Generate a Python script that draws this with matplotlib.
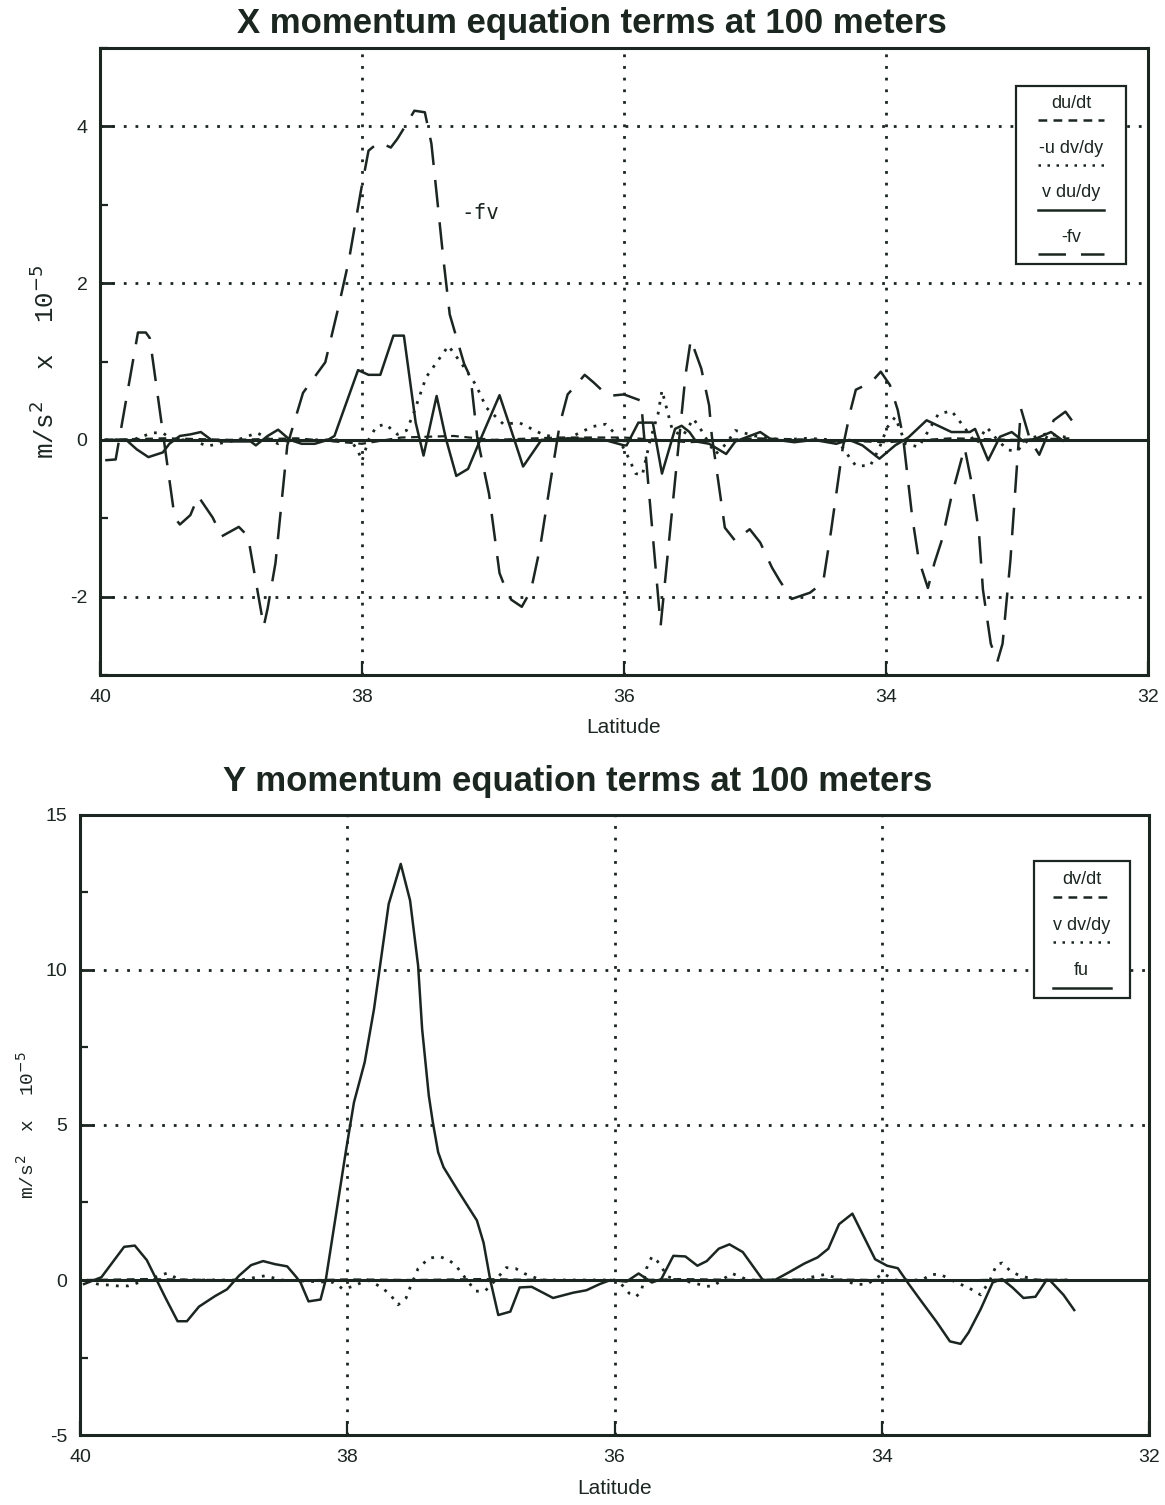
import matplotlib
matplotlib.use("Agg")
import matplotlib.pyplot as plt
from matplotlib.patches import Rectangle
from matplotlib.ticker import MultipleLocator

plt.rcParams["axes.unicode_minus"] = False
plt.rcParams["font.family"] = ["Liberation Sans", "DejaVu Sans"]

INK = "#1c2621"

# ---------------- X momentum terms (units of 1e-5 m/s^2) ----------------
fv_lat = [39.96, 39.88, 39.71, 39.65, 39.62, 39.43, 39.39, 39.31, 39.25, 39.14,
          39.07, 38.94, 38.87, 38.75, 38.72, 38.66, 38.57, 38.45, 38.28, 38.18,
          38.10, 38.01, 37.95, 37.87, 37.78, 37.73, 37.66, 37.60, 37.52, 37.47,
          37.43, 37.38, 37.33, 37.22, 37.17, 37.12, 37.03, 36.95, 36.91, 36.86,
          36.78, 36.71, 36.64, 36.56, 36.49, 36.43, 36.36, 36.30, 36.23, 36.16,
          36.12, 36.00, 35.87, 35.72, 35.53, 35.49, 35.41, 35.35, 35.33, 35.28,
          35.23, 35.15, 35.11, 35.04, 34.96, 34.87, 34.81, 34.72, 34.58, 34.48,
          34.42, 34.33, 34.27, 34.23, 34.18, 34.11, 34.04, 33.97, 33.91, 33.87,
          33.80, 33.75, 33.68, 33.63, 33.57, 33.50, 33.40, 33.34, 33.29, 33.26,
          33.20, 33.15, 33.11, 33.05, 32.97, 32.90, 32.83, 32.72, 32.63, 32.56]
fv_val = [-0.26, -0.25, 1.37, 1.37, 1.30, -0.99, -1.08, -0.96, -0.72, -0.99,
          -1.23, -1.11, -1.23, -2.38, -2.15, -1.57, -0.07, 0.60, 0.99, 1.69,
          2.29, 3.16, 3.69, 3.80, 3.73, 3.84, 4.03, 4.20, 4.18, 3.78,
          3.14, 2.33, 1.60, 0.97, 0.79, 0.03, -0.69, -1.70, -1.87, -2.04,
          -2.13, -1.92, -1.37, -0.52, 0.20, 0.58, 0.71, 0.83, 0.73, 0.62,
          0.56, 0.58, 0.50, -2.37, 0.83, 1.28, 0.91, 0.44, 0.06, -0.53,
          -1.12, -1.29, -1.23, -1.14, -1.31, -1.63, -1.80, -2.03, -1.95, -1.82,
          -1.17, -0.10, 0.38, 0.64, 0.68, 0.74, 0.87, 0.70, 0.38, 0.04,
          -0.98, -1.53, -1.89, -1.57, -1.26, -0.72, -0.10, -0.60, -1.19, -1.91,
          -2.60, -2.83, -2.60, -1.53, 0.40, 0.00, -0.19, 0.25, 0.36, 0.20]

vdudy_lat = [39.96, 39.80, 39.72, 39.63, 39.52, 39.47, 39.39, 39.31, 39.23, 39.15,
             39.07, 38.85, 38.81, 38.72, 38.64, 38.55, 38.46, 38.36, 38.26, 38.21,
             38.03, 37.95, 37.86, 37.76, 37.68, 37.59, 37.53, 37.43, 37.36, 37.28,
             37.19, 37.11, 36.95, 36.86, 36.77, 36.63, 36.40, 36.15, 36.00, 35.98,
             35.89, 35.78, 35.71, 35.61, 35.56, 35.50, 35.45, 35.35, 35.22, 35.15,
             34.96, 34.88, 34.70, 34.55, 34.38, 34.28, 34.18, 34.05, 33.93, 33.83,
             33.69, 33.50, 33.36, 33.32, 33.22, 33.13, 33.04, 32.95, 32.85, 32.74,
             32.65]
vdudy_val = [0.00, 0.00, -0.12, -0.22, -0.16, -0.05, 0.05, 0.07, 0.10, 0.00,
             -0.02, -0.02, -0.07, 0.05, 0.13, 0.00, -0.05, -0.05, 0.00, 0.05,
             0.89, 0.83, 0.83, 1.33, 1.33, 0.22, -0.20, 0.56, 0.02, -0.46,
             -0.37, -0.05, 0.57, 0.12, -0.34, 0.00, 0.02, 0.00, -0.07, -0.07,
             0.22, 0.22, -0.43, 0.14, 0.18, 0.10, -0.02, -0.05, -0.18, -0.02,
             0.10, 0.01, -0.03, 0.00, -0.05, 0.00, -0.07, -0.24, -0.07, 0.03,
             0.25, 0.10, 0.10, 0.14, -0.26, 0.04, 0.10, -0.02, 0.02, 0.10,
             -0.01]

udvdy_lat = [39.96, 39.75, 39.60, 39.52, 39.45, 39.30, 39.18, 39.10, 38.95, 38.80,
             38.70, 38.64, 38.55, 38.20, 38.08, 38.03, 38.00, 37.95, 37.89, 37.82,
             37.73, 37.66, 37.61, 37.51, 37.34, 37.23, 37.13, 37.05, 36.92, 36.80,
             36.62, 36.45, 36.24, 36.14, 36.08, 35.99, 35.91, 35.86, 35.80, 35.74,
             35.71, 35.63, 35.55, 35.47, 35.40, 35.35, 35.30, 35.22, 35.15, 35.00,
             34.80, 34.60, 34.40, 34.33, 34.28, 34.23, 34.12, 34.05, 33.99, 33.93,
             33.85, 33.75, 33.60, 33.50, 33.42, 33.31, 33.23, 33.15, 33.07, 33.00,
             32.90, 32.77, 32.68, 32.58]
udvdy_val = [0.00, 0.00, 0.09, 0.09, 0.00, 0.00, -0.08, -0.05, 0.00, 0.09,
             0.00, -0.05, 0.00, 0.00, -0.02, -0.14, -0.27, 0.00, 0.17, 0.20,
             0.07, 0.12, 0.32, 0.80, 1.20, 0.95, 0.70, 0.41, 0.20, 0.22,
             0.07, 0.00, 0.17, 0.20, 0.10, -0.14, -0.43, -0.45, 0.00, 0.33,
             0.63, 0.12, 0.05, 0.27, 0.10, -0.05, -0.18, -0.05, 0.12, 0.05,
             0.00, 0.02, 0.00, -0.10, -0.22, -0.33, -0.33, -0.10, 0.16, 0.29,
             -0.05, -0.09, 0.33, 0.37, 0.20, -0.05, 0.16, 0.00, -0.13, -0.14,
             0.02, 0.08, 0.05, 0.02]

dudt_lat = [39.96, 39.50, 39.00, 38.50, 38.00, 37.70, 37.30, 37.00, 36.50, 36.00,
            35.50, 35.00, 34.50, 34.00, 33.50, 33.00, 32.60]
dudt_val = [0.00, 0.02, 0.00, 0.02, -0.05, 0.03, 0.05, 0.00, 0.03, 0.03,
            -0.03, 0.02, 0.00, -0.03, 0.02, 0.00, 0.02]

# ---------------- Y momentum terms ----------------
fu_lat = [39.97, 39.84, 39.67, 39.59, 39.50, 39.43, 39.36, 39.27, 39.20, 39.11,
          38.99, 38.90, 38.81, 38.72, 38.63, 38.54, 38.45, 38.39, 38.35, 38.29,
          38.20, 38.16, 38.01, 37.95, 37.87, 37.80, 37.69, 37.60, 37.53, 37.47,
          37.44, 37.39, 37.36, 37.32, 37.28, 37.17, 37.03, 36.98, 36.93, 36.87,
          36.78, 36.71, 36.62, 36.46, 36.31, 36.21, 36.11, 36.03, 35.91, 35.82,
          35.72, 35.65, 35.56, 35.47, 35.38, 35.31, 35.22, 35.14, 35.04, 34.89,
          34.80, 34.69, 34.58, 34.48, 34.40, 34.32, 34.22, 34.13, 34.05, 33.96,
          33.88, 33.80, 33.70, 33.59, 33.49, 33.41, 33.35, 33.26, 33.17, 33.10,
          33.02, 32.94, 32.85, 32.77, 32.74, 32.64, 32.56]
fu_val = [-0.13, 0.09, 1.07, 1.11, 0.64, 0.03, -0.58, -1.33, -1.33, -0.86,
          -0.52, -0.30, 0.14, 0.48, 0.61, 0.51, 0.44, 0.14, -0.08, -0.69,
          -0.63, 0.03, 4.17, 5.73, 7.02, 8.74, 12.13, 13.42, 12.24, 10.14,
          8.10, 5.95, 5.09, 4.12, 3.64, 2.87, 1.92, 1.20, 0.00, -1.13,
          -1.02, -0.24, -0.22, -0.58, -0.41, -0.33, -0.13, 0.00, -0.05, 0.21,
          -0.08, 0.03, 0.78, 0.76, 0.46, 0.61, 1.01, 1.15, 0.90, 0.00,
          0.00, 0.26, 0.53, 0.73, 1.01, 1.80, 2.14, 1.36, 0.67, 0.46,
          0.38, -0.12, -0.71, -1.35, -1.98, -2.06, -1.69, -0.94, -0.08, 0.03,
          -0.25, -0.58, -0.54, -0.02, -0.02, -0.48, -0.97]

vdvdy_lat = [39.95, 39.87, 39.72, 39.64, 39.50, 39.35, 39.25, 38.80, 38.61, 38.50,
             38.10, 38.03, 37.95, 37.85, 37.74, 37.67, 37.62, 37.56, 37.53, 37.47,
             37.39, 37.31, 37.24, 37.19, 37.13, 37.04, 36.97, 36.89, 36.81, 36.74,
             36.67, 36.55, 36.00, 35.96, 35.89, 35.84, 35.80, 35.76, 35.72, 35.68,
             35.60, 35.50, 35.31, 35.26, 35.20, 35.12, 35.00, 34.60, 34.50, 34.42,
             34.30, 34.19, 34.11, 33.99, 33.90, 33.70, 33.63, 33.56, 33.48, 33.41,
             33.35, 33.26, 33.19, 33.14, 33.10, 33.03, 32.97, 32.85, 32.60]
vdvdy_val = [0.00, -0.13, -0.19, -0.19, 0.00, 0.22, 0.00, 0.00, 0.14, 0.00,
             -0.08, -0.30, -0.19, 0.00, -0.24, -0.52, -0.80, -0.58, -0.24, 0.37,
             0.70, 0.76, 0.64, 0.48, 0.14, -0.36, -0.36, 0.00, 0.40, 0.37,
             0.20, 0.00, 0.00, -0.08, -0.43, -0.54, -0.37, 0.38, 0.76, 0.61,
             0.10, 0.00, -0.20, -0.20, 0.00, 0.21, 0.00, 0.00, 0.12, 0.18,
             0.00, -0.14, -0.14, 0.21, 0.00, 0.00, 0.18, 0.18, 0.00, -0.14,
             -0.25, -0.48, 0.00, 0.50, 0.55, 0.26, 0.15, 0.00, 0.00]

dvdt_lat = [39.95, 39.50, 39.00, 38.50, 38.00, 37.50, 37.00, 36.50, 36.00, 35.50,
            35.00, 34.50, 34.00, 33.50, 33.00, 32.60]
dvdt_val = [0.00, 0.03, 0.00, -0.03, 0.02, 0.00, 0.03, 0.00, -0.02, 0.03,
            0.00, 0.02, 0.00, -0.02, 0.02, 0.00]

lat_ticks = [40, 38, 36, 34, 32]
x_yticks = [-2, 0, 2, 4]
y_yticks = [-5, 0, 5, 10, 15]

DOT = (0, (1, 2.6))
DASH_LONG = (0, (11, 6))
DASH_SHORT = (0, (3.5, 2.5))


def style_axes(ax, ylim, yticks, yminor, hgrid, label_y, ylab_size, ylab_pad):
    ax.set_xlim(40, 32)
    ax.set_ylim(*ylim)
    ax.set_xticks(lat_ticks)
    ax.set_yticks(yticks)
    ax.yaxis.set_minor_locator(MultipleLocator(yminor))
    ax.tick_params(axis="both", which="both", direction="in", colors=INK,
                   labelsize=14, top=False, right=False)
    ax.tick_params(axis="y", which="major", length=10, width=2, pad=9)
    ax.tick_params(axis="y", which="minor", length=6, width=1.6)
    ax.tick_params(axis="x", which="major", length=10, width=1.6, pad=10)
    for s in ax.spines.values():
        s.set_linewidth(2.2)
        s.set_color(INK)
    for v in hgrid:
        ax.axhline(v, color=INK, lw=2.0, ls=(0, (1, 3.2)), zorder=1)
    for v in lat_ticks[1:-1]:
        ax.axvline(v, color=INK, lw=2.0, ls=(0, (1, 3.2)), zorder=1)
    ax.axhline(0, color=INK, lw=2.2, zorder=2)
    ax.set_xlabel("Latitude", fontsize=15, color=INK)
    ax.xaxis.set_label_coords(0.5, label_y)
    ax.xaxis.label.set_va("center")
    ax.set_ylabel("m/s$^2$  x  10$^{-5}$", fontsize=ylab_size, color=INK,
                  family="Liberation Mono", labelpad=ylab_pad)


def legend_box(ax, x0, y0, w, h, entries):
    ax.add_patch(Rectangle((x0, y0), w, h, transform=ax.transAxes, fill=True,
                           facecolor="white", edgecolor=INK, lw=1.6, zorder=5))
    n = len(entries)
    step = h / n
    for i, (label, ls) in enumerate(entries):
        yt = y0 + h - step * (i + 0.4)
        yl = y0 + h - step * (i + 0.78)
        ax.text(x0 + w / 2, yt, label, transform=ax.transAxes, ha="center",
                va="center", fontsize=13, color=INK, zorder=6)
        ax.plot([x0 + w * 0.2, x0 + w * 0.8], [yl, yl], transform=ax.transAxes,
                color=INK, lw=1.8, ls=ls, zorder=6)


fig = plt.figure(figsize=(11.65, 15.05), dpi=100)

# X momentum panel
ax1 = fig.add_axes([0.0858, 0.5515, 0.8996, 0.4166])
style_axes(ax1, (-3, 5), x_yticks, 1, [-2, 2, 4], -0.083, 18.5, 8)
ax1.plot(dudt_lat, dudt_val, color=INK, lw=1.6, ls=DASH_SHORT, zorder=3)
ax1.plot(udvdy_lat, udvdy_val, color=INK, lw=2.0, ls=DOT, zorder=3)
ax1.plot(vdudy_lat, vdudy_val, color=INK, lw=1.8, zorder=3)
ax1.plot(fv_lat, fv_val, color=INK, lw=1.8, ls=DASH_LONG, zorder=3)
ax1.text(37.24, 2.89, "-fv", fontsize=15, color=INK, family="DejaVu Sans Mono",
         ha="left", va="center")
legend_box(ax1, 0.874, 0.655, 0.105, 0.285,
           [("du/dt", DASH_SHORT), ("-u dv/dy", DOT), ("v du/dy", "-"),
            ("-fv", DASH_LONG)])
fig.text(592 / 1165, 1 - 23 / 1505, "X momentum equation terms at 100 meters",
         fontsize=25, fontweight="bold", color=INK, ha="center", va="center")

# Y momentum panel
ax2 = fig.add_axes([0.0687, 0.0465, 0.9176, 0.412])
style_axes(ax2, (-5, 15), y_yticks, 2.5, [5, 10], -0.0855, 14, 6)
ax2.plot(dvdt_lat, dvdt_val, color=INK, lw=1.6, ls=DASH_SHORT, zorder=3)
ax2.plot(vdvdy_lat, vdvdy_val, color=INK, lw=2.0, ls=DOT, zorder=3)
ax2.plot(fu_lat, fu_val, color=INK, lw=1.8, zorder=3)
legend_box(ax2, 0.892, 0.705, 0.09, 0.22,
           [("dv/dt", DASH_SHORT), ("v dv/dy", DOT), ("fu", "-")])
fig.text(578 / 1165, 1 - 781 / 1505, "Y momentum equation terms at 100 meters",
         fontsize=25, fontweight="bold", color=INK, ha="center", va="center")

fig.savefig("out.png", dpi=100)
